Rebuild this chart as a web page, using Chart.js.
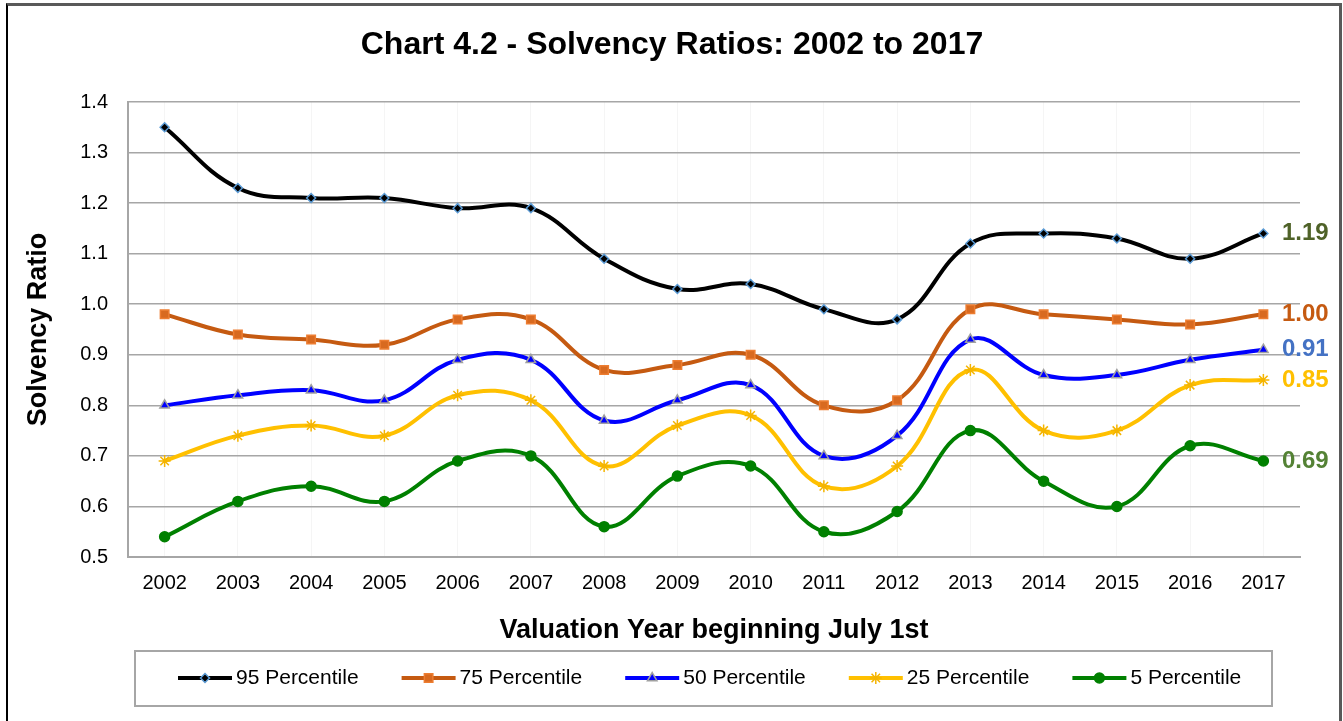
<!DOCTYPE html>
<html>
<head>
<meta charset="utf-8">
<script src="https://cdn.jsdelivr.net/npm/chart.js@4/dist/chart.umd.min.js"></script>
<style>
    body { margin: 0; background: #fff; }
    #wrap { position: relative; width: 1343px; height: 721px; overflow: hidden; }
    #frame {
        position: absolute; left: 6px; top: 3px; width: 1331px; height: 740px;
        border-left: 2px solid #000; border-top: 3px solid #595959; border-right: 3px solid #595959;
        pointer-events: none;
    }
    canvas { position: absolute; left: 0; top: 0; }
</style>
</head>
<body>
<div id="wrap">
    <canvas id="solvency" width="1343" height="721"></canvas>
    <div id="frame"></div>
</div>
<script>
// values
var years = ["2002", "2003", "2004", "2005", "2006", "2007", "2008", "2009",
             "2010", "2011", "2012", "2013", "2014", "2015", "2016", "2017"];
var p95 = [1.35, 1.23, 1.21, 1.21, 1.19, 1.19, 1.09, 1.03, 1.04, 0.99, 0.97, 1.12, 1.14, 1.13, 1.09, 1.14];
var p75 = [0.98, 0.94, 0.93, 0.92, 0.97, 0.97, 0.87, 0.88, 0.90, 0.80, 0.81, 0.99, 0.98, 0.97, 0.96, 0.98];
var p50 = [0.80, 0.82, 0.83, 0.81, 0.89, 0.89, 0.77, 0.81, 0.84, 0.70, 0.74, 0.93, 0.86, 0.86, 0.89, 0.91];
var p25 = [0.69, 0.74, 0.76, 0.74, 0.82, 0.81, 0.68, 0.76, 0.78, 0.64, 0.68, 0.87, 0.75, 0.75, 0.84, 0.85];
var p05 = [0.54, 0.61, 0.64, 0.61, 0.69, 0.70, 0.56, 0.66, 0.68, 0.55, 0.59, 0.75, 0.65, 0.60, 0.72, 0.69];
var seriesNames = ["95 Percentile", "75 Percentile", "50 Percentile", "25 Percentile", "5 Percentile"];
var endLabels = ["1.19", "1.00", "0.91", "0.85", "0.69"];
var endLabelColors = ["#4f6228", "#c55a11", "#4472c4", "#ffc000", "#548235"];
var chartTitle = "Chart 4.2 - Solvency Ratios: 2002 to 2017";

function makeSeries(name, values, color, style, radius, fill, edge)
{
    return {
        label: name,
        data: values,
        borderColor: color,
        backgroundColor: color,
        borderWidth: 4,
        tension: 0.4,
        pointStyle: style,
        pointRadius: radius,
        pointBackgroundColor: fill,
        pointBorderColor: edge,
        pointBorderWidth: 1.5,
        clip: false
    };
}

// title, right-hand value labels and the boxed legend
var extrasPlugin = {
    id: "extras",
    afterDraw: function(chart) {
        var ctx = chart.ctx;
        ctx.save();
        ctx.fillStyle = "#000";
        ctx.font = "bold 32px Arial, 'Liberation Sans', sans-serif";
        ctx.textAlign = "center";
        ctx.textBaseline = "middle";
        ctx.fillText(chartTitle, 672, 45);

        ctx.font = "bold 24px Arial, 'Liberation Sans', sans-serif";
        ctx.textAlign = "left";
        chart.data.datasets.forEach(function(ds, i) {
            var meta = chart.getDatasetMeta(i);
            var last = meta.data[meta.data.length - 1];
            ctx.fillStyle = endLabelColors[i];
            ctx.fillText(endLabels[i], 1282, last.y);
        });

        ctx.strokeStyle = "#a6a6a6";
        ctx.lineWidth = 2;
        ctx.strokeRect(135, 651, 1137, 55);
        ctx.font = "21px Arial, 'Liberation Sans', sans-serif";
        chart.data.datasets.forEach(function(ds, i) {
            var x0 = 178 + i * 223.6, y = 678;
            ctx.strokeStyle = ds.borderColor;
            ctx.lineWidth = 4;
            ctx.beginPath();
            ctx.moveTo(x0, y);
            ctx.lineTo(x0 + 54, y);
            ctx.stroke();
            ctx.fillStyle = ds.pointBackgroundColor;
            ctx.strokeStyle = ds.pointBorderColor;
            ctx.lineWidth = ds.pointBorderWidth;
            Chart.helpers.drawPoint(ctx, {pointStyle: ds.pointStyle, radius: ds.pointRadius, rotation: 0, borderWidth: ds.pointBorderWidth}, x0 + 27, y);
            ctx.fillStyle = "#000";
            ctx.fillText(ds.label, x0 + 58, y);
        });
        ctx.restore();
    }
};

var ctx = document.getElementById("solvency").getContext("2d");
var solvencyChart = new Chart(ctx, {
    type: "line",
    data: {
        labels: years,
        datasets: [
            makeSeries(seriesNames[0], p95, "#000000", "rectRot", 4.5, "#000000", "#5b9bd5"),
            makeSeries(seriesNames[1], p75, "#c55a11", "rect", 6, "#d86a20", "#ed7d31"),
            makeSeries(seriesNames[2], p50, "#0000ff", "triangle", 5.5, "#0000ff", "#a0a0a0"),
            makeSeries(seriesNames[3], p25, "#ffc000", "star", 6, "#ffc000", "#f4b400"),
            makeSeries(seriesNames[4], p05, "#008000", "circle", 5, "#008000", "#008000")
        ]
    },
    options: {
        responsive: false,
        animation: false,
        layout: { padding: { left: 12, right: 43, top: 102, bottom: 69 } },
        scales: {
            x: {
                offset: true,
                grid: { color: "rgba(0,0,0,0.04)", drawTicks: false },
                border: { color: "#a6a6a6", width: 2 },
                ticks: { color: "#000", padding: 14, font: { size: 20, family: "Arial, 'Liberation Sans', sans-serif" } },
                title: {
                    display: true,
                    text: "Valuation Year beginning July 1st",
                    color: "#000",
                    padding: { top: 0, bottom: 5 },
                    font: { size: 27, weight: "bold", family: "Arial, 'Liberation Sans', sans-serif" }
                },
                afterFit: function(scale) { scale.height = 95; }
            },
            y: {
                min: 0.5,
                max: 1.4,
                grid: { color: "#a6a6a6", lineWidth: 1.5, drawTicks: false },
                border: { color: "#a6a6a6", width: 2 },
                ticks: {
                    stepSize: 0.1,
                    color: "#000",
                    padding: 20,
                    font: { size: 20, family: "Arial, 'Liberation Sans', sans-serif" },
                    callback: function(v) { return Number(v).toFixed(1); }
                },
                title: {
                    display: true,
                    text: "Solvency Ratio",
                    color: "#000",
                    padding: { top: 10, bottom: 0 },
                    font: { size: 27, weight: "bold", family: "Arial, 'Liberation Sans', sans-serif" }
                },
                afterFit: function(scale) { scale.width = 116; }
            }
        },
        plugins: {
            legend: { display: false },
            title: { display: false },
            tooltip: { enabled: false }
        }
    },
    plugins: [extrasPlugin]
});
</script>
</body>
</html>
